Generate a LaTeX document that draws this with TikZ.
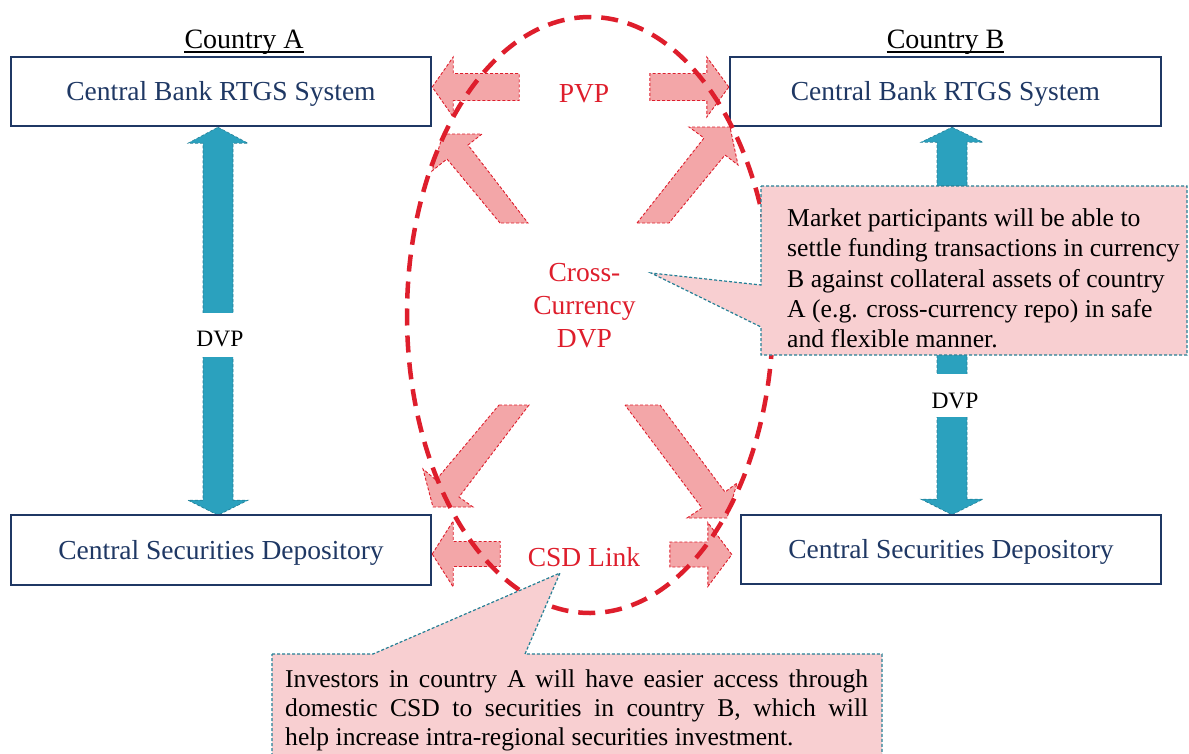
\documentclass[tikz,border=0pt]{standalone}
\usepackage{fontspec}
\setmainfont{Liberation Serif}
\definecolor{navy}{RGB}{31,56,100}
\definecolor{tealA}{RGB}{43,161,190}
\definecolor{tealB}{RGB}{36,128,152}
\definecolor{pinkA}{RGB}{243,166,168}
\definecolor{redA}{RGB}{222,30,44}
\definecolor{callfill}{RGB}{248,207,209}
\definecolor{callborder}{RGB}{38,128,150}
\begin{document}
\begin{tikzpicture}[x=1pt,y=-1pt,
  sysbox/.style={draw=navy, line width=2.4pt, fill=white, minimum height=69pt,
    inner sep=0pt, font=\fontsize{27.5}{33}\selectfont, text=navy,
    text height=18.2pt, text depth=0pt},
  tealarr/.style={fill=tealA, draw=tealB, line width=0.6pt, densely dashed},
  pinkarr/.style={fill=pinkA, draw=redA, line width=0.9pt, densely dashed},
  redlabel/.style={text=redA, font=\fontsize{27.5}{33.2}\selectfont, inner sep=0pt, align=center},
  dvplabel/.style={font=\fontsize{23.5}{28}\selectfont, inner sep=0pt, anchor=base},
  country/.style={font=\fontsize{28}{33}\selectfont, inner sep=0pt, anchor=base},
  callout/.style={fill=callfill, draw=callborder, line width=1.2pt, densely dashed},
  calltext/.style={inner sep=0pt, anchor=north west},
  ring/.style={draw=redA, line width=4.5pt, dash pattern=on 17pt off 10pt}
]
\useasboundingbox (0,0) rectangle (1189,753);
\clip (0,0) rectangle (1189,753);

% boxes (positions)
\node[sysbox, minimum width=420pt] (ltop) at (221,91.5) {Central Bank RTGS System};
\node[sysbox, minimum width=431pt] (rtop) at (945.5,91.5) {Central Bank RTGS System};
\node[sysbox, minimum width=420pt, minimum height=70pt] (lbot) at (221,550) {Central Securities Depository};
\node[sysbox, minimum width=420pt] (rbot) at (951,549.5) {Central Securities Depository};

% teal DVP arrows
\draw[tealarr] ([xshift=-3pt]ltop.south) -- ++(30,16) -- ++(-15,0) -- ++(0,357) -- ++(15,0)
  -- ++(-30,15) -- ++(-30,-15) -- ++(15,0) -- ++(0,-357) -- ++(-15,0) -- cycle;
\draw[tealarr] ([xshift=6.5pt]rtop.south) -- ++(31,15) -- ++(-16,0) -- ++(0,357) -- ++(16,0)
  -- ++(-31,15.5) -- ++(-31,-15.5) -- ++(16,0) -- ++(0,-357) -- ++(-16,0) -- cycle;
\fill[white] (199,313) rectangle (237,357);
\fill[white] (933,374) rectangle (971,417);
\node[dvplabel] (dvpA) at (220,346) {DVP};
\node[dvplabel] (dvpB) at (955,408) {DVP};

% redraw boxes on top of arrow tips
\node[sysbox, minimum width=420pt] at (ltop) {Central Bank RTGS System};
\node[sysbox, minimum width=431pt] at (rtop) {Central Bank RTGS System};
\node[sysbox, minimum width=420pt, minimum height=70pt] at (lbot) {Central Securities Depository};
\node[sysbox, minimum width=420pt] at (rbot) {Central Securities Depository};

% PVP arrows
\draw[pinkarr] ([yshift=4.5pt]ltop.east) -- ++(21,-30) -- ++(0,16.5) -- ++(66,0) -- ++(0,27)
  -- ++(-66,0) -- ++(0,16.5) -- cycle;
\draw[pinkarr] ([yshift=4.5pt]rtop.west) -- ++(-22,-30) -- ++(0,16.5) -- ++(-57,0) -- ++(0,27)
  -- ++(57,0) -- ++(0,16.5) -- cycle;
% CSD link arrows
\draw[pinkarr] ([yshift=-4pt]lbot.east) -- ++(21,-33) -- ++(0,20.5) -- ++(47,0) -- ++(0,25)
  -- ++(-47,0) -- ++(0,20.5) -- cycle;
\draw[pinkarr] ([xshift=-8pt,yshift=-5pt]rbot.west) -- ++(-24,-32) -- ++(0,19.5) -- ++(-38,0) -- ++(0,25)
  -- ++(38,0) -- ++(0,19.5) -- cycle;
% diagonal cross-currency arrows
\draw[pinkarr] (500,223) -- (447,159) -- (432,171) -- (443,134) -- (482,134) -- (468,145) -- (528,223) -- cycle;
\draw[pinkarr] (637,223) -- (704,138) -- (689,127) -- (730,127) -- (738,165) -- (725,155) -- (669,223) -- cycle;
\draw[pinkarr] (499,405) -- (529,405) -- (459,497) -- (473,507) -- (433,507) -- (423,469) -- (436,480) -- cycle;
\draw[pinkarr] (625,405) -- (660,405) -- (725,492) -- (737,483) -- (727,518) -- (687,518) -- (702,508) -- cycle;

% dashed ring
\draw[ring] (590,315) ellipse [x radius=183, y radius=298];

% red labels
\node[redlabel, text height=18.2pt, text depth=0pt] (pvp) at (584,93.5) {PVP};
\node[redlabel, anchor=north] (ccdvp) at (584.5,263) {Cross-\\Currency\\DVP};
\node[redlabel, text height=18.2pt, text depth=0pt] (csd) at (584,557) {CSD Link};

% callouts
\coordinate (tipB) at (651,273);
\coordinate (tipA) at (560,573);
\draw[callout] (761,186) -- (1187,186) -- (1187,355) -- (761,355) -- (761,327) -- (tipB) -- (761,285) -- cycle;
\draw[callout] (272,654) -- (373,654) -- (tipA) -- (525,654) -- (882,654) -- (882,775) -- (272,775) -- cycle;

\node[calltext, align=left, font=\fontsize{25.7}{30.3}\selectfont] (noteB) at (787,208.5)
  {Market participants will be able to\\settle funding transactions in currency\\B against collateral assets of country\\A (e.g. cross-currency repo) in safe\\and flexible manner.};
\node[calltext, text width=583pt, align=justify, font=\fontsize{25.6}{29}\selectfont] (noteA) at (285,670)
  {Investors in country A will have easier access through\linebreak domestic CSD to securities in country B, which will\linebreak help increase intra-regional securities investment.};

% country headings
\node[country] (ca) at (244,48) {Country A};
\draw[line width=1.5pt] ([yshift=-4pt]ca.base west) -- ([yshift=-4pt]ca.base east);
\node[country] (cb) at (945.5,48) {Country B};
\draw[line width=1.5pt] ([yshift=-4pt]cb.base west) -- ([yshift=-4pt]cb.base east);
\end{tikzpicture}
\end{document}
